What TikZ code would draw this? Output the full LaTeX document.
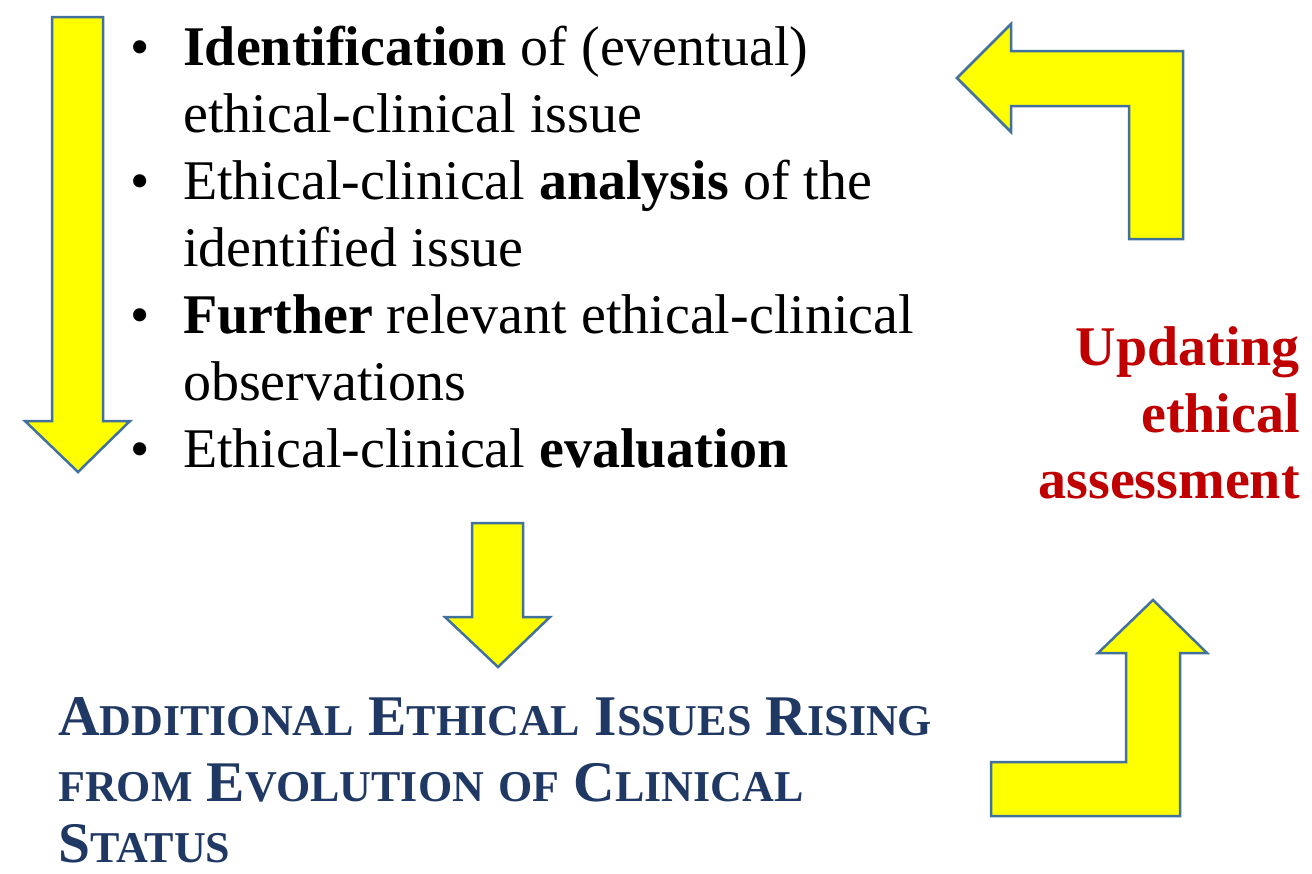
\documentclass[tikz,border=0pt]{standalone}
\usepackage{fontspec}
\setmainfont{Liberation Serif}
\definecolor{arrowline}{RGB}{65,113,156}
\definecolor{arrowfill}{RGB}{255,255,0}
\definecolor{headred}{RGB}{192,0,0}
\definecolor{navy}{RGB}{31,56,100}
% faked small capitals: first letter full size, the rest smaller
\newcommand\capfull[1]{{\fontsize{57.5}{57.5}\selectfont #1}}
\newcommand\capsmall[1]{{\fontsize{44}{44}\selectfont #1}}
\begin{document}
\begin{tikzpicture}[x=1pt,y=-1pt,
  bigarrow/.style={fill=arrowfill, draw=arrowline, line width=2.5pt, line join=miter},
  bodytext/.style={inner sep=0pt, anchor=base west, font=\fontsize{56}{56}\selectfont},
  bulletmark/.style={inner sep=0pt, anchor=base west, font=\fontsize{55}{55}\selectfont},
  redtext/.style={inner sep=0pt, anchor=base east, text=headred, font=\fontsize{56}{56}\selectfont\bfseries},
  bluetext/.style={inner sep=0pt, anchor=base west, text depth=0pt, text=navy, font=\fontsize{57.5}{57.5}\selectfont\bfseries}]
\useasboundingbox (0,0) rectangle (1312,873);

% block arrows
\draw[bigarrow] (52,17) -- (103,17) -- (103,421) -- (130,421) -- (78,472)
  -- (25,421) -- (52,421) -- cycle;
\draw[bigarrow] (472,523) -- (523,523) -- (523,617) -- (550,617) -- (498,667)
  -- (445,617) -- (472,617) -- cycle;
\draw[bigarrow] (1183,239) -- (1183,51) -- (1011,51) -- (1011,24) -- (957,78)
  -- (1011,132) -- (1011,106) -- (1129,106) -- (1129,239) -- cycle;
\draw[bigarrow] (991,762) -- (1126,762) -- (1126,653) -- (1098,653) -- (1153,600)
  -- (1207,653) -- (1180,653) -- (1180,816) -- (991,816) -- cycle;

% bullet list
\node[bulletmark] (b1) at (130,65) {\textbullet};
\node[bulletmark] (b2) at (130,199) {\textbullet};
\node[bulletmark] (b3) at (130,333) {\textbullet};
\node[bulletmark] (b4) at (130,467) {\textbullet};
\node[bodytext] (l1) at (183,65) {\textbf{Identification} of (eventual)};
\node[bodytext] (l2) at (183,132) {ethical-clinical issue};
\node[bodytext] (l3) at (183,199) {Ethical-clinical \textbf{analysis} of the};
\node[bodytext] (l4) at (183,266) {identified issue};
\node[bodytext] (l5) at (183,333) {\textbf{Further} relevant ethical-clinical};
\node[bodytext] (l6) at (183,400) {observations};
\node[bodytext] (l7) at (183,467) {Ethical-clinical \textbf{evaluation}};

% side label
\node[redtext] (r1) at (1300,365) {Updating};
\node[redtext] (r2) at (1300,432) {ethical};
\node[redtext] (r3) at (1300,498) {assessment};

% bottom heading
\node[bluetext] (h1) at (58,735) {\capfull{A}\capsmall{DDITIONAL} \capfull{E}\capsmall{THICAL} \capfull{I}\capsmall{SSUES} \capfull{R}\capsmall{ISING}};
\node[bluetext] (h2) at (58,801) {\capsmall{FROM} \capfull{E}\capsmall{VOLUTION} \capsmall{OF} \capfull{C}\capsmall{LINICAL}};
\node[bluetext] (h3) at (58,862) {\capfull{S}\capsmall{TATUS}};
\end{tikzpicture}
\end{document}
